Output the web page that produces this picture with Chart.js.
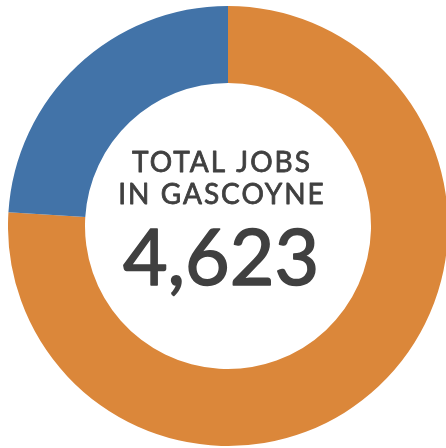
<!DOCTYPE html>
<html>
<head>
<meta charset="utf-8">
<script src="https://cdn.jsdelivr.net/npm/chart.js@4"></script>
<style>
    html, body { margin: 0; padding: 0; background: #fff; overflow: hidden; }
    body { width: 446px; height: 448px; position: relative; }
    #wrap { position: absolute; left: 8px; top: 6px; width: 440px; height: 440px; }
</style>
</head>
<body>
<div id="wrap"><canvas id="jobsChart"></canvas></div>
<script>
const labels = ['Other jobs', 'Selected jobs'];
const values = [3513, 1110];
const colors = ['#DB873A', '#4273A8'];
const titleLines = ['TOTAL JOBS', 'IN GASCOYNE'];
const totalText = '4,623';

document.addEventListener('DOMContentLoaded', () => {
    const ctx = document.getElementById('jobsChart');
    if (!ctx) return;

    // centre label drawn on the canvas, with a thin stroke to get a medium weight
    const centreText = {
        id: 'centreText',
        afterDraw(chart) {
            const c = chart.ctx;
            const x = chart.chartArea.left + chart.chartArea.width / 2 - 7;
            c.save();
            c.fillStyle = '#404040';
            c.strokeStyle = '#404040';
            c.lineJoin = 'round';
            c.textAlign = 'center';
            c.textBaseline = 'alphabetic';
            c.font = '28px Lato';
            c.letterSpacing = '2px';
            c.lineWidth = 0.8;
            titleLines.forEach((t, i) => {
                c.fillText(t, x + 1, 166 + i * 32);
                c.strokeText(t, x + 1, 166 + i * 32);
            });
            c.font = '77px Lato';
            c.letterSpacing = '0px';
            c.lineWidth = 1.6;
            c.fillText(totalText, x, 279);
            c.strokeText(totalText, x, 279);
            c.restore();
        }
    };

    new Chart(ctx, {
        type: 'doughnut',
        data: {
            labels: labels,
            datasets: [{
                data: values,
                backgroundColor: colors,
                borderWidth: 0
            }]
        },
        options: {
            responsive: true,
            maintainAspectRatio: false,
            animation: false,
            cutout: '65%',
            layout: { padding: 0 },
            plugins: {
                legend: { display: false },
                tooltip: { enabled: false }
            }
        },
        plugins: [centreText]
    });
});
</script>
</body>
</html>
